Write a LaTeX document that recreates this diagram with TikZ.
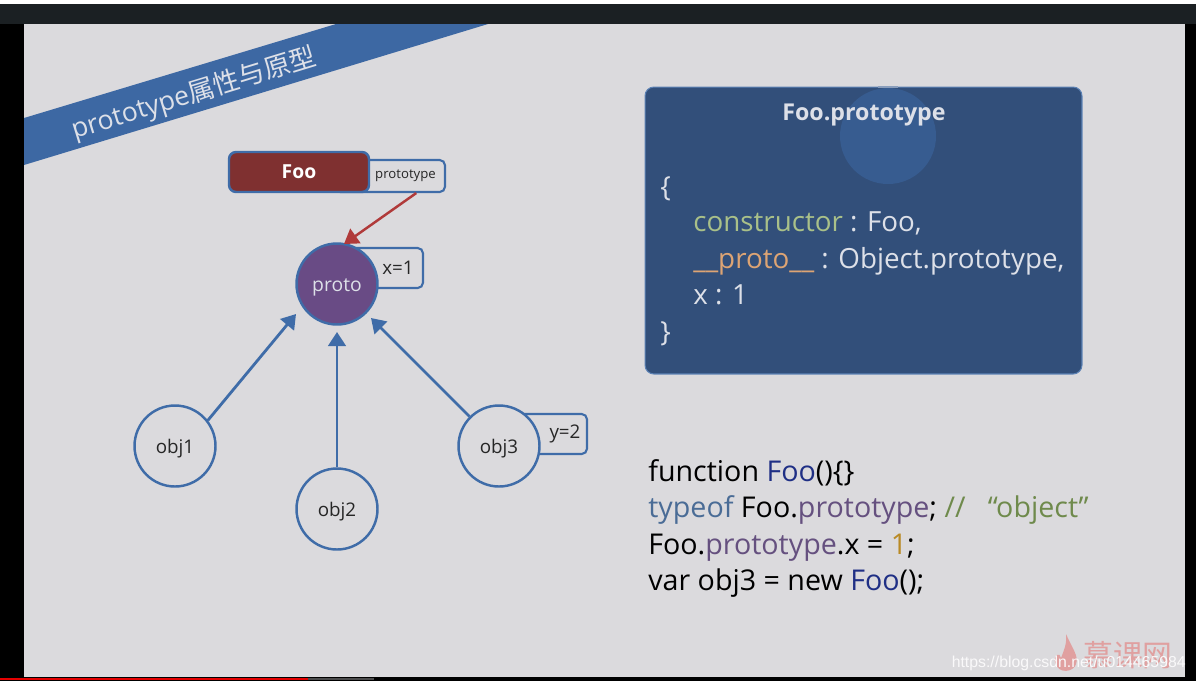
\documentclass[tikz,border=0pt]{standalone}
\usepackage{fontspec}
\setmainfont{Open Sans}
\newfontfamily\cjkfont{Noto Sans CJK SC}
\newfontfamily\markfont{Liberation Sans}
\usetikzlibrary{arrows.meta, positioning}
\definecolor{slidegray}{HTML}{DBDADD}
\definecolor{bandblue}{HTML}{3D68A3}
\definecolor{linkblue}{HTML}{3F6CA8}
\definecolor{cardblue}{HTML}{324F7A}
\definecolor{glowblue}{HTML}{375C90}
\definecolor{fooRed}{HTML}{7F3030}
\definecolor{protoPurple}{HTML}{694B85}
\definecolor{arrowRed}{HTML}{B03A3A}
\definecolor{textPale}{HTML}{DDE0E8}
\definecolor{kwGreen}{HTML}{A9C089}
\definecolor{kwOrange}{HTML}{DDA474}
\definecolor{codeBlue}{HTML}{1F2F85}
\definecolor{typeBlue}{HTML}{4A6C96}
\definecolor{codePurple}{HTML}{65507F}
\definecolor{codeGreen}{HTML}{6F8A4C}
\definecolor{codeGold}{HTML}{B98A25}
\definecolor{topbar}{HTML}{1B2023}
\definecolor{logoRed}{HTML}{E0A0A0}
\begin{document}
\begin{tikzpicture}[x=0.02cm,y=-0.02cm,
  o/.style={circle,draw=linkblue,line width=1.4pt,fill=slidegray,minimum size=1.62cm,inner sep=0pt,text height=9pt,text depth=0pt,font=\fontsize{10.7}{12}\selectfont,text=black!85},
  tag/.style={rectangle,draw=linkblue,line width=1.2pt,fill=slidegray,rounded corners=3pt,inner sep=0pt,font=\fontsize{10.7}{12}\selectfont,text=black!85},
  l/.style={-{Triangle[length=8pt,width=10pt]},line width=1.6pt,linkblue},
  code/.style={anchor=base west,inner sep=0pt,font=\fontsize{16.3}{18}\selectfont},
  card/.style={anchor=base west,inner sep=0pt,font=\fontsize{15.8}{18}\selectfont,text=textPale}]
  \useasboundingbox (0,0) rectangle (1196,681);
  % frame
  \fill[black] (0,0) rectangle (1196,681);
  \fill[white] (0,0) rectangle (1196,4);
  \fill[topbar] (0,4) rectangle (1196,24);
  \fill[slidegray] (24,24) rectangle (1185,677);
  \fill[red!90!black] (0,678) rectangle (308,680);
  \fill[black!70] (308,678) rectangle (374,680);
  % banner
  \fill[bandblue] (24,118) -- (336,24) -- (488,24) -- (24,165) -- cycle;
  \node[rotate=17,text=textPale,inner sep=0pt,font=\fontsize{15.1}{20}\selectfont] (title) at (194,94) {prototype{\cjkfont 属性与原型}};
  % left graph
  \node[tag,minimum width=2.2cm,minimum height=0.64cm,font=\fontsize{7.5}{9}\selectfont] (ptag) at (390,176) {\hspace*{0.62cm}prototype};
  \node[rectangle,draw=linkblue,line width=1.4pt,fill=fooRed,rounded corners=4pt,minimum width=2.8cm,minimum height=0.8cm,inner sep=0pt,text=white,font=\bfseries\fontsize{11}{14}\selectfont] (foo) at (299,172) {Foo};
  \node[tag,minimum width=1.8cm,minimum height=0.8cm] (xtag) at (378,268) {\hspace*{0.8cm}x=1};
  \node[o,fill=protoPurple,text=textPale,font=\fontsize{11}{14}\selectfont] (proto) at (337,284) {proto};
  \node[tag,minimum width=1.76cm,minimum height=0.8cm] (ytag) at (543,434) {\hspace*{0.88cm}y=2};
  \node[o] (obj1) at (175,446) {obj1};
  \node[o] (obj2) at (337,509) {obj2};
  \node[o] (obj3) at (499,446) {obj3};
  \coordinate (p1) at (296,314);
  \coordinate (p2) at (337,332);
  \coordinate (p3) at (371,318);
  \coordinate (pr) at (344,244);
  \draw[l] (obj1.38) -- (p1);
  \draw[l] (obj2) -- (p2);
  \draw[l] (obj3) -- (p3);
  \draw[-{Triangle[length=8pt,width=10pt]},line width=1.4pt,arrowRed] (ptag.-33) -- (pr);
  % card
  \node[rectangle,rounded corners=5pt,draw=linkblue!85,line width=0.6pt,fill=cardblue,minimum width=8.74cm,minimum height=5.74cm,inner sep=0pt] (card) at (863.5,230.5) {};
  \fill[glowblue] (888,136) circle (48);
  \draw[line width=1pt,textPale!50!glowblue] (878,87) -- (898,87);
  \node[text=textPale,inner sep=0pt,font=\bfseries\fontsize{13.2}{16}\selectfont] (cardtitle) at (864,115) {Foo.prototype};
  \node[card] (c1) at (660,196) {\{};
  \node[card] (c2) at (693,231) {{\color{kwGreen}constructor} : Foo,};
  \node[card] (c3) at (693,268) {{\color{kwOrange}\_\_proto\_\_} : Object.prototype,};
  \node[card] (c4) at (693,304) {x : 1};
  \node[card] (c5) at (660,341) {\}};
  % code
  \node[code] (d1) at (648,481) {function {\color{codeBlue}Foo}()\{\}};
  \node[code] (d2) at (648,517) {{\color{typeBlue}typeof} Foo.{\color{codePurple}prototype}; {\color{codeGreen}// \ \ “object”}};
  \node[code] (d3) at (648,554) {Foo.{\color{codePurple}prototype}.x = {\color{codeGold}1};};
  \node[code] (d4) at (648,590) {var obj3 = new {\color{codeBlue}Foo}();};
  % watermark
  \fill[logoRed] (1066,634) .. controls (1072,648) and (1079,656) .. (1076,664) .. controls (1074,672) and (1058,675) .. (1055,662) .. controls (1054,654) and (1060,652) .. (1061,658) .. controls (1064,650) and (1067,644) .. (1066,634) -- cycle;
  \node[text=logoRed,inner sep=0pt,font=\cjkfont\fontsize{17}{19}\selectfont] (logo) at (1128,655) {慕课网};
  \node[anchor=base east,text=white!85!slidegray,inner sep=0pt,font=\markfont\fontsize{9}{11}\selectfont] (mark) at (1186,667) {https://blog.csdn.net/u014465984};
\end{tikzpicture}
\end{document}
